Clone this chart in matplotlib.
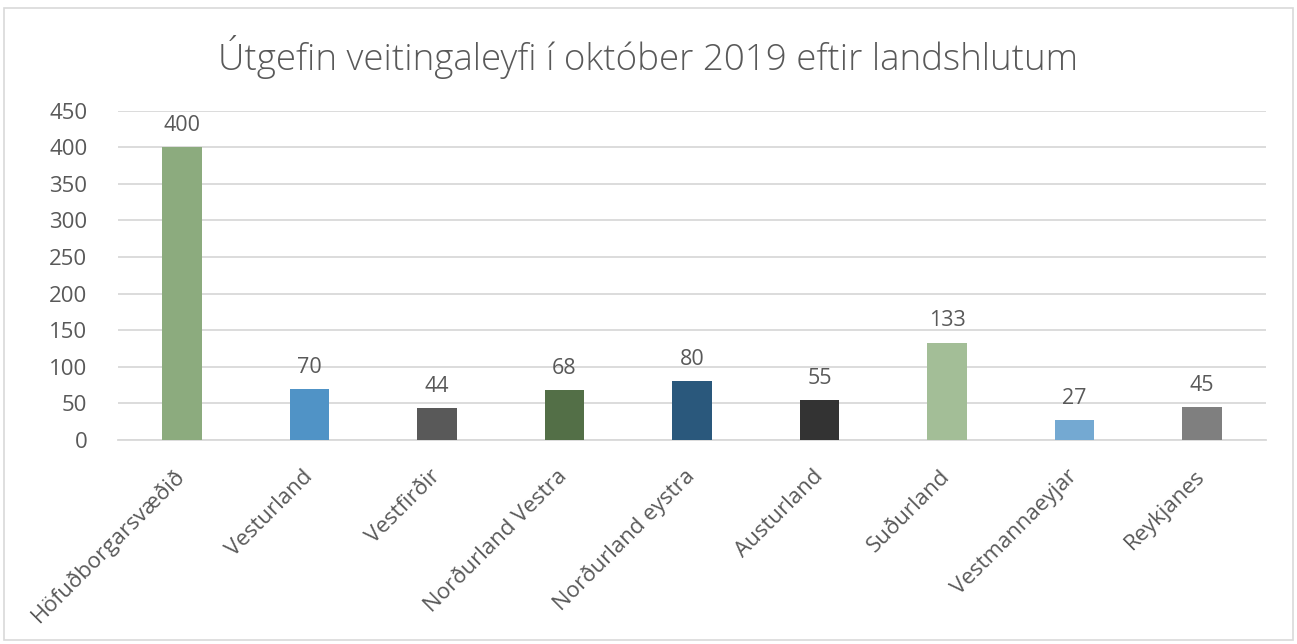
import matplotlib.pyplot as plt
from matplotlib.patches import Rectangle

# Data
regions = ['Höfuðborgarsvæðið', 'Vesturland', 'Vestfirðir', 'Norðurland Vestra',
           'Norðurland eystra', 'Austurland', 'Suðurland', 'Vestmannaeyjar', 'Reykjanes']
licences = [400, 70, 44, 68, 80, 55, 133, 27, 45]
bar_colors = ['#8CAB7E', '#5093C6', '#595959', '#536F47', '#2A587C',
              '#333333', '#A3BE97', '#74A9D2', '#7F7F7F']
y_ticks = list(range(0, 451, 50))

text_color = '#595959'
grid_color = '#D9D9D9'

plt.rcParams['font.family'] = ['Open Sans', 'DejaVu Sans']

fig = plt.figure(figsize=(12.97, 6.44), dpi=100)
ax = fig.add_axes([0.091, 0.317, 0.885, 0.511])

# outer chart border
fig.patches.append(Rectangle((4 / 1297, 4 / 644), 1289 / 1297, 632 / 644,
                             transform=fig.transFigure, fill=False,
                             edgecolor=grid_color, linewidth=1.2))

x = range(len(regions))
bars = ax.bar(x, licences, width=0.31, color=bar_colors, zorder=3)

for bar, value in zip(bars, licences):
    ax.annotate(f'{value}', (bar.get_x() + bar.get_width() / 2, bar.get_height()),
                xytext=(0, 8), textcoords='offset points',
                ha='center', va='bottom', fontsize=15.5, color=text_color)

ax.set_xlim(-0.5, len(regions) - 0.5)
ax.set_ylim(0, 450)
ax.set_yticks(y_ticks)
ax.set_yticklabels([str(t) for t in y_ticks], fontsize=16, color=text_color)
ax.set_xticks(list(x))
ax.set_xticklabels(regions, rotation=45, ha='right', va='center',
                   rotation_mode='anchor', fontsize=16, color=text_color)
ax.tick_params(axis='x', length=0, pad=24)
ax.tick_params(axis='y', length=0, pad=22)

ax.grid(axis='y', color=grid_color, linewidth=1.3, zorder=0)
for side in ['top', 'right', 'left']:
    ax.spines[side].set_visible(False)
ax.spines['bottom'].set_color(grid_color)
ax.spines['bottom'].set_linewidth(1.3)

fig.text(0.5, 0.912, 'Útgefin veitingaleyfi í október 2019 eftir landshlutum',
         ha='center', va='center', fontsize=26.5, fontweight='light', color=text_color)

fig.savefig('out.png', dpi=100)
